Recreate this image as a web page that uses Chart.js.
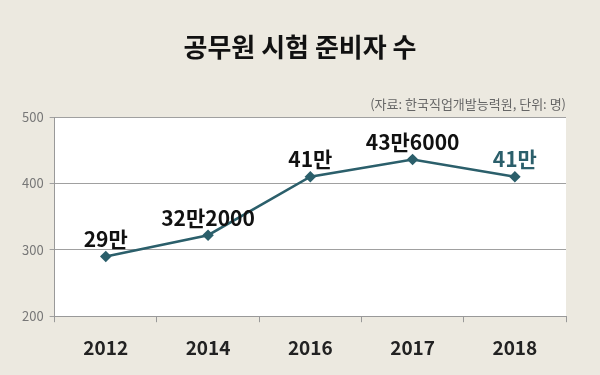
<!DOCTYPE html>
<html><head><meta charset="utf-8">
<script src="https://cdn.jsdelivr.net/npm/chart.js@4"></script>
<style>html,body{margin:0;padding:0;background:#ece9e0;}#wrap{width:600px;height:375px;position:relative;}</style>
</head><body><div id="wrap"><canvas id="c" width="600" height="375"></canvas></div>
<script>
const years = ['2012','2014','2016','2017','2018'];
const applicants = [290, 322, 410, 436, 410]; // 천 명
const valueLabels = ['29만','32만2000','41만','43만6000','41만'];
const yTicks = [200, 300, 400, 500];
const titleText = '공무원 시험 준비자 수';
const sourceText = '(자료: 한국직업개발능력원, 단위: 명)';

const FONT = "'Noto Sans CJK KR', 'Noto Sans', sans-serif";
const TEAL = '#2b5f6b';

const deco = {
  id: 'deco',
  beforeDraw(chart) {
    const {ctx, chartArea: a} = chart;
    ctx.save();
    ctx.fillStyle = '#ece9e0';
    ctx.fillRect(0, 0, chart.width, chart.height);
    ctx.fillStyle = '#ffffff';
    ctx.fillRect(a.left, a.top, a.right - a.left, a.bottom - a.top);
    ctx.restore();
  },
  afterDraw(chart) {
    const {ctx, chartArea: a} = chart;
    ctx.save();
    ctx.fillStyle = '#111';
    ctx.font = "bold 26px " + FONT;
    ctx.textAlign = 'center';
    ctx.textBaseline = 'middle';
    ctx.fillText(titleText, 300, 47);
    ctx.fillStyle = '#666';
    ctx.font = "13px " + FONT;
    ctx.textAlign = 'right';
    ctx.fillText(sourceText, a.right, 104);
    const meta = chart.getDatasetMeta(0);
    ctx.font = "bold 21px " + FONT;
    ctx.textAlign = 'center';
    ctx.textBaseline = 'bottom';
    meta.data.forEach((pt, i) => {
      ctx.fillStyle = i === valueLabels.length - 1 ? TEAL : '#111';
      ctx.fillText(valueLabels[i], pt.x, pt.y - 7);
    });
    ctx.restore();
  }
};

new Chart(document.getElementById('c'), {
  type: 'line',
  data: {
    labels: years,
    datasets: [{
      data: applicants,
      borderColor: TEAL,
      backgroundColor: TEAL,
      borderWidth: 2.5,
      pointStyle: 'rectRot',
      pointRadius: 4,
      pointHoverRadius: 4,
      tension: 0
    }]
  },
  options: {
    responsive: false,
    animation: false,
    devicePixelRatio: 1,
    layout: {padding: {top: 117, right: 34, bottom: 2, left: 16}},
    plugins: {legend: {display: false}, tooltip: {enabled: false}},
    scales: {
      x: {
        offset: true,
        grid: {offset: true, drawOnChartArea: false, drawTicks: true, tickLength: 6, color: '#999'},
        border: {color: '#999', width: 1},
        ticks: {color: '#222', font: {family: FONT, size: 19, weight: 'bold'}, padding: 14}
      },
      y: {
        min: 200, max: 500,
        afterBuildTicks(scale) { scale.ticks = yTicks.map(v => ({value: v})); },
        grid: {color: '#a0a0a0', drawTicks: true, tickLength: 5},
        border: {color: '#999', width: 1},
        ticks: {color: '#777', font: {family: FONT, size: 13}, padding: 6}
      }
    }
  },
  plugins: [deco]
});
</script></body></html>
